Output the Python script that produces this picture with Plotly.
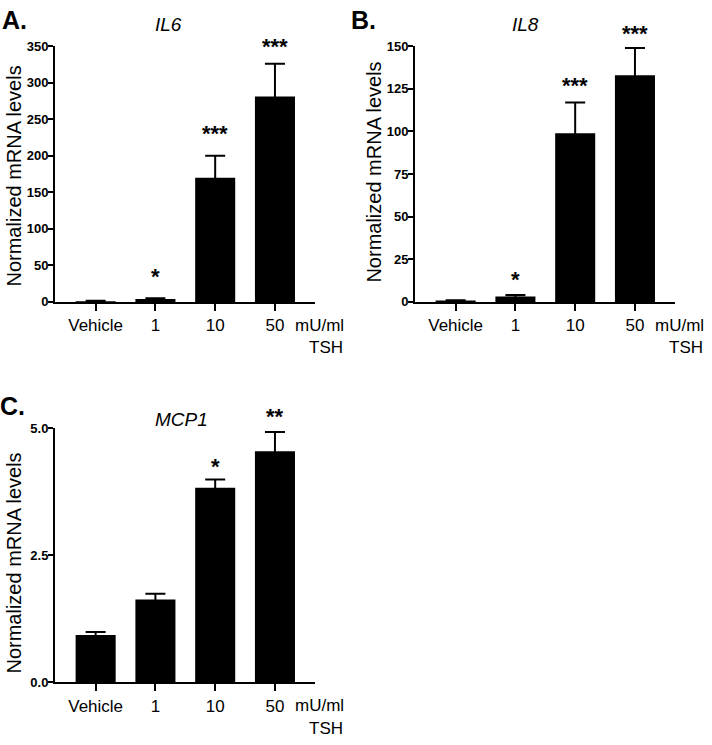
import plotly.graph_objects as go

categories = ["Vehicle", "1", "10", "50"]

il6_mean = [1.0, 4.0, 170.0, 281.0]
il6_err = [0.5, 1.0, 30.0, 45.0]
il6_stars = ["", "*", "***", "***"]

il8_mean = [0.8, 3.2, 99.0, 133.0]
il8_err = [0.2, 0.8, 18.0, 16.0]
il8_stars = ["", "*", "***", "***"]

mcp1_mean = [0.93, 1.63, 3.83, 4.55]
mcp1_err = [0.06, 0.11, 0.16, 0.38]
mcp1_stars = ["", "", "*", "**"]

il6_ticks = [0, 50, 100, 150, 200, 250, 300, 350]
il8_ticks = [0, 25, 50, 75, 100, 125, 150]
mcp1_ticks = [0.0, 2.5, 5.0]
mcp1_ticktext = ["0.0", "2.5", "5.0"]

FONT = "Liberation Sans, Arial, Helvetica, sans-serif"
W, H = 712, 745

fig = go.Figure()

panels = [
    dict(mean=il6_mean, err=il6_err, stars=il6_stars, ax="", title="IL6", letter="A.",
         xdom=[55 / W, 315 / W], ydom=[1 - 301 / H, 1 - 40 / H], yrange=[0, 350],
         ticks=il6_ticks, ticktext=[str(t) for t in il6_ticks],
         title_xy=(168, 18), letter_xy=(14, 13), ytitle_xy=(14, 173), unit_xy=(293, 325),
         star_shift=[0, 22, 22, 17]),
    dict(mean=il8_mean, err=il8_err, stars=il8_stars, ax="2", title="IL8", letter="B.",
         xdom=[415 / W, 675 / W], ydom=[1 - 301 / H, 1 - 40 / H], yrange=[0, 150],
         ticks=il8_ticks, ticktext=[str(t) for t in il8_ticks],
         title_xy=(525, 18), letter_xy=(363, 13), ytitle_xy=(374, 169), unit_xy=(653, 325),
         star_shift=[0, 16, 17, 14]),
    dict(mean=mcp1_mean, err=mcp1_err, stars=mcp1_stars, ax="3", title="MCP1", letter="C.",
         xdom=[55 / W, 315 / W], ydom=[1 - 689 / H, 1 - 430 / H], yrange=[0, 5.0],
         ticks=mcp1_ticks, ticktext=mcp1_ticktext,
         title_xy=(181, 421), letter_xy=(12, 407), ytitle_xy=(14, 568), unit_xy=(293, 713),
         star_shift=[0, 0, 13, 15]),
]

annotations = []
for p in panels:
    ax = p["ax"]
    xa = "x" + ax
    ya = "y" + ax
    # error bars (drawn first, lower half hidden under the bars)
    fig.add_trace(go.Bar(
        x=categories, y=p["mean"], xaxis=xa, yaxis=ya,
        marker=dict(color="rgba(0,0,0,0)", line=dict(width=0)),
        width=0.67,
        error_y=dict(type="data", array=p["err"], symmetric=True,
                     color="black", thickness=2, width=10),
        showlegend=False, hoverinfo="skip",
    ))
    # bars
    fig.add_trace(go.Bar(
        x=categories, y=p["mean"], xaxis=xa, yaxis=ya,
        marker=dict(color="black", line=dict(width=0)),
        width=0.67,
        showlegend=False, hoverinfo="skip",
    ))
    key_x = "xaxis" + ax
    key_y = "yaxis" + ax
    fig.update_layout(**{
        key_x: dict(domain=p["xdom"], anchor=ya, type="category",
                    range=[-0.68, 3.67], showline=True, linecolor="black", linewidth=2,
                    ticks="outside", ticklen=7, tickwidth=2, tickcolor="black",
                    tickfont=dict(family=FONT, size=17, color="black"),
                    showgrid=False, zeroline=False, fixedrange=True),
        key_y: dict(domain=p["ydom"], anchor=xa, range=p["yrange"],
                    tickmode="array", tickvals=p["ticks"], ticktext=p["ticktext"],
                    showline=True, linecolor="black", linewidth=2,
                    ticks="outside", ticklen=5, tickwidth=2, tickcolor="black",
                    ticklabelstandoff=-3,
                    tickfont=dict(family=FONT, size=13, color="black", weight="bold"),
                    showgrid=False, zeroline=False, fixedrange=True),
    })
    # significance stars
    for i, (m, e, s, sh) in enumerate(zip(p["mean"], p["err"], p["stars"], p["star_shift"])):
        if s:
            annotations.append(dict(x=i, y=m + e, xref=xa, yref=ya, text=s, showarrow=False,
                                    yanchor="middle", yshift=sh,
                                    font=dict(family=FONT, size=22, color="black", weight="bold")))
    # gene title
    tx, ty = p["title_xy"]
    annotations.append(dict(x=tx / W, y=1 - ty / H, xref="paper", yref="paper",
                            text="<i>" + p["title"] + "</i>", showarrow=False,
                            xanchor="center", yanchor="middle",
                            font=dict(family=FONT, size=19, color="black")))
    # panel letter
    lx, ly = p["letter_xy"]
    annotations.append(dict(x=lx / W, y=1 - ly / H, xref="paper", yref="paper",
                            text="<b>" + p["letter"] + "</b>", showarrow=False,
                            xanchor="center", yanchor="middle",
                            font=dict(family=FONT, size=25, color="black")))
    # y title
    yx, yy = p["ytitle_xy"]
    annotations.append(dict(x=yx / W, y=1 - yy / H, xref="paper", yref="paper",
                            text="Normalized mRNA levels", showarrow=False, textangle=-90,
                            xanchor="center", yanchor="middle",
                            font=dict(family=FONT, size=20, color="black")))
    # unit
    ux, uy = p["unit_xy"]
    annotations.append(dict(x=ux / W, y=1 - uy / H, xref="paper", yref="paper",
                            text="mU/ml", showarrow=False, xanchor="left", yanchor="middle",
                            font=dict(family=FONT, size=17, color="black")))
    annotations.append(dict(x=(ux + 14) / W, y=1 - (uy + 23) / H, xref="paper", yref="paper",
                            text="TSH", showarrow=False, xanchor="left", yanchor="middle",
                            font=dict(family=FONT, size=17, color="black")))

fig.update_layout(
    width=W, height=H,
    margin=dict(l=0, r=0, t=0, b=0),
    paper_bgcolor="white", plot_bgcolor="white",
    barmode="overlay",
    annotations=annotations,
    font=dict(family=FONT, color="black"),
)

fig.write_html("out.html",
               config={"displayModeBar": False, "staticPlot": True},
               post_script="document.body.style.margin='0';document.body.style.overflow='hidden';")
